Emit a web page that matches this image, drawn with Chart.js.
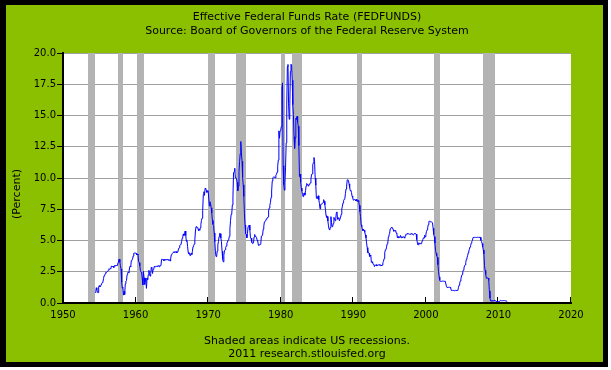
<!DOCTYPE html>
<html lang="en">
<head>
  <meta charset="UTF-8">
  <title>Effective Federal Funds Rate (FEDFUNDS)</title>
  <script src="https://cdn.jsdelivr.net/npm/chart.js"></script>
  <style>
    body {
      margin: 0;
      padding: 0;
      background: #ffffff;
    }
    #wrap {
      position: relative;
      width: 611px;
      height: 370px;
    }
  </style>
</head>
<body>

  <div id="wrap">
    <canvas id="fedChart" width="611" height="370"></canvas>
  </div>

  <script>
    // Monthly effective federal funds rate, percent (first value = July 1954)
    const firstMonth = 1954 + 6 / 12;
    const rates1950s = [
      0.80, 1.22, 1.07, 0.85, 0.83, 1.28,
      1.39, 1.29, 1.35, 1.43, 1.43, 1.64, 1.68, 1.96, 2.18, 2.24, 2.35, 2.48,
      2.45, 2.50, 2.50, 2.62, 2.75, 2.71, 2.75, 2.73, 2.95, 2.96, 2.88, 2.94,
      2.84, 3.00, 2.96, 3.00, 3.00, 3.00, 2.99, 3.24, 3.47, 3.50, 3.28, 2.98,
      2.72, 1.67, 1.20, 1.26, 0.63, 0.93, 0.68, 1.53, 1.76, 1.80, 2.27, 2.42,
      2.48, 2.43, 2.80, 2.96, 2.90, 3.39, 3.47, 3.50, 3.76, 3.98, 4.00, 3.99
    ];
    const rates1960s = [
      3.99, 3.97, 3.84, 3.92, 3.85, 3.32, 3.23, 2.98, 2.60, 2.47, 2.44, 1.98,
      1.45, 2.54, 2.02, 1.49, 1.98, 1.73, 1.17, 2.00, 1.88, 2.26, 2.61, 2.33,
      2.15, 2.37, 2.85, 2.78, 2.36, 2.68, 2.71, 2.93, 2.90, 2.90, 2.94, 2.93,
      2.92, 3.00, 2.98, 2.90, 3.00, 2.99, 3.02, 3.49, 3.48, 3.50, 3.48, 3.38,
      3.48, 3.48, 3.43, 3.47, 3.50, 3.50, 3.42, 3.50, 3.45, 3.36, 3.52, 3.85,
      3.90, 3.98, 4.04, 4.09, 4.10, 4.04, 4.09, 4.12, 4.01, 4.08, 4.10, 4.32,
      4.42, 4.60, 4.65, 4.67, 4.90, 5.17, 5.30, 5.53, 5.40, 5.53, 5.76, 5.40,
      4.94, 5.00, 4.53, 4.05, 3.94, 3.98, 3.79, 3.90, 3.99, 3.88, 4.13, 4.51,
      4.61, 4.71, 5.05, 5.76, 6.11, 6.07, 6.02, 6.03, 5.78, 5.91, 5.82, 6.02,
      6.30, 6.61, 6.79, 7.41, 8.67, 8.90, 8.61, 9.19, 9.15, 9.00, 8.85, 8.97
    ];
    const rates1970s = [
      8.98, 8.98, 7.76, 8.10, 7.95, 7.61, 7.21, 6.61, 6.29, 6.20, 5.60, 4.90,
      4.14, 3.72, 3.71, 4.16, 4.63, 4.91, 5.31, 5.57, 5.55, 5.20, 4.91, 4.14,
      3.50, 3.29, 3.83, 4.17, 4.27, 4.46, 4.55, 4.80, 4.87, 5.04, 5.06, 5.33,
      5.94, 6.58, 7.09, 7.12, 7.84, 8.49, 10.40, 10.50, 10.78, 10.01, 10.03, 9.95,
      9.65, 8.97, 9.35, 10.51, 11.31, 11.93, 12.92, 12.01, 11.34, 10.06, 9.45, 8.53,
      7.13, 6.24, 5.54, 5.49, 5.22, 5.55, 6.10, 6.14, 6.24, 5.82, 5.22, 5.20,
      4.87, 4.77, 4.84, 4.82, 5.29, 5.48, 5.31, 5.29, 5.25, 5.02, 4.95, 4.65,
      4.61, 4.68, 4.69, 4.73, 5.35, 5.39, 5.42, 5.90, 6.14, 6.47, 6.51, 6.56,
      6.70, 6.78, 6.79, 6.89, 7.36, 7.60, 7.81, 8.04, 8.45, 8.96, 9.76, 10.03,
      10.07, 10.06, 10.09, 10.01, 10.24, 10.29, 10.47, 10.94, 11.43, 13.77, 13.18, 13.78
    ];
    const rates1980s = [
      13.82, 14.13, 17.19, 17.61, 10.98, 9.47, 9.03, 9.61, 10.87, 12.81, 15.85, 18.90,
      19.08, 15.93, 14.70, 15.72, 18.52, 19.10, 19.04, 17.82, 15.87, 15.08, 13.31, 12.37,
      13.22, 14.78, 14.68, 14.94, 14.45, 14.15, 12.59, 10.12, 10.31, 9.71, 9.20, 8.95,
      8.68, 8.51, 8.77, 8.80, 8.63, 8.98, 9.37, 9.56, 9.45, 9.48, 9.34, 9.47,
      9.56, 9.59, 9.91, 10.29, 10.32, 11.06, 11.23, 11.64, 11.30, 9.99, 9.43, 8.38,
      8.35, 8.50, 8.58, 8.27, 7.97, 7.53, 7.88, 7.90, 7.92, 7.99, 8.05, 8.27,
      8.14, 7.86, 7.48, 6.99, 6.85, 6.92, 6.56, 6.17, 5.89, 5.85, 6.04, 6.91,
      6.43, 6.10, 6.13, 6.37, 6.85, 6.73, 6.58, 6.73, 7.22, 7.29, 6.69, 6.77,
      6.83, 6.58, 6.58, 6.87, 7.09, 7.51, 7.75, 8.01, 8.19, 8.30, 8.35, 8.76,
      9.12, 9.36, 9.85, 9.84, 9.81, 9.53, 9.24, 8.99, 9.02, 8.84, 8.55, 8.45
    ];
    const rates1990s = [
      8.23, 8.24, 8.28, 8.26, 8.18, 8.29, 8.15, 8.13, 8.20, 8.11, 7.81, 7.31,
      6.91, 6.25, 6.12, 5.91, 5.78, 5.90, 5.82, 5.66, 5.45, 5.21, 4.81, 4.43,
      4.03, 4.06, 3.98, 3.73, 3.82, 3.76, 3.25, 3.30, 3.22, 3.10, 3.09, 2.92,
      3.02, 3.03, 3.07, 2.96, 3.00, 3.04, 3.06, 3.03, 3.09, 2.99, 3.02, 2.96,
      3.05, 3.25, 3.34, 3.56, 4.01, 4.25, 4.26, 4.47, 4.73, 4.76, 5.29, 5.45,
      5.53, 5.92, 5.98, 6.05, 6.01, 6.00, 5.85, 5.74, 5.80, 5.76, 5.80, 5.60,
      5.56, 5.22, 5.31, 5.22, 5.24, 5.27, 5.40, 5.22, 5.30, 5.24, 5.31, 5.29,
      5.25, 5.19, 5.39, 5.51, 5.50, 5.56, 5.52, 5.54, 5.54, 5.50, 5.52, 5.50,
      5.56, 5.51, 5.49, 5.45, 5.49, 5.56, 5.54, 5.55, 5.51, 5.07, 4.83, 4.68,
      4.63, 4.76, 4.81, 4.74, 4.74, 4.76, 4.99, 5.07, 5.22, 5.20, 5.42, 5.30
    ];
    const rates2000s = [
      5.45, 5.73, 5.85, 6.02, 6.27, 6.53, 6.54, 6.50, 6.52, 6.51, 6.51, 6.40,
      5.98, 5.49, 5.31, 4.80, 4.21, 3.97, 3.77, 3.65, 3.07, 2.49, 2.09, 1.82,
      1.73, 1.74, 1.73, 1.75, 1.75, 1.75, 1.73, 1.74, 1.75, 1.75, 1.34, 1.24,
      1.24, 1.26, 1.25, 1.26, 1.26, 1.22, 1.01, 1.03, 1.01, 1.01, 1.00, 0.98,
      1.00, 1.01, 1.00, 1.00, 1.00, 1.03, 1.26, 1.43, 1.61, 1.76, 1.93, 2.16,
      2.28, 2.50, 2.63, 2.79, 3.00, 3.04, 3.26, 3.50, 3.62, 3.78, 4.00, 4.16,
      4.29, 4.49, 4.59, 4.79, 4.94, 4.99, 5.24, 5.25, 5.25, 5.25, 5.25, 5.24,
      5.25, 5.26, 5.26, 5.25, 5.25, 5.25, 5.26, 5.02, 4.94, 4.76, 4.49, 4.24,
      3.94, 2.98, 2.61, 2.28, 1.98, 2.00, 2.01, 2.00, 1.81, 0.97, 0.39, 0.16,
      0.15, 0.22, 0.18, 0.15, 0.18, 0.21, 0.16, 0.16, 0.15, 0.12, 0.12, 0.12
    ];
    const rates2010s = [
      0.11, 0.13, 0.16, 0.20, 0.20, 0.18, 0.18, 0.19, 0.19, 0.19, 0.19, 0.18,
      0.17, 0.16, 0.14
    ];

    // NBER recessions (decimal years)
    const recessionStarts = [1953.50, 1957.58, 1960.25, 1969.92, 1973.83, 1980.00, 1981.50, 1990.50, 2001.17, 2007.92];
    const recessionEnds   = [1954.42, 1958.33, 1961.17, 1970.92, 1975.25, 1980.58, 1982.92, 1991.25, 2001.92, 2009.50];

    const yearTicks = [1950, 1960, 1970, 1980, 1990, 2000, 2010, 2020];
    const titleLines = ['Effective Federal Funds Rate (FEDFUNDS)', 'Source: Board of Governors of the Federal Reserve System'];
    const footerLines = ['Shaded areas indicate US recessions.', '2011 research.stlouisfed.org'];
    const yTitle = '(Percent)';

    const allRates = [].concat(rates1950s, rates1960s, rates1970s, rates1980s, rates1990s, rates2000s, rates2010s);
    const points = allRates.map((v, i) => ({ x: firstMonth + i / 12, y: v }));

    const FONT = "'DejaVu Sans', Verdana, sans-serif";

    // frame, recession shading, inner x ticks and the texts
    const fredPlugin = {
      id: 'fred',
      beforeDraw(chart) {
        const ctx = chart.ctx;
        const a = chart.chartArea;
        ctx.save();
        ctx.fillStyle = '#000000';
        ctx.fillRect(0, 0, 608, 367);
        ctx.fillStyle = '#8bc000';
        ctx.fillRect(6, 5, 597, 357);
        ctx.fillStyle = '#ffffff';
        ctx.fillRect(a.left, a.top, a.right - a.left, a.bottom - a.top);
        ctx.restore();
      },
      beforeDatasetsDraw(chart) {
        const ctx = chart.ctx;
        const a = chart.chartArea;
        const xs = chart.scales.x;
        ctx.save();
        ctx.fillStyle = '#b3b3b3';
        recessionStarts.forEach((s, i) => {
          const x0 = Math.round(xs.getPixelForValue(s));
          const x1 = Math.round(xs.getPixelForValue(recessionEnds[i]));
          ctx.fillRect(x0, a.top, x1 - x0, a.bottom - a.top - 1);
        });
        ctx.strokeStyle = '#000000';
        ctx.lineWidth = 1;
        yearTicks.forEach(yr => {
          const x = Math.round(xs.getPixelForValue(yr)) - 0.5;
          ctx.beginPath();
          ctx.moveTo(x, a.bottom);
          ctx.lineTo(x, a.bottom - 6);
          ctx.stroke();
        });
        ctx.restore();
      },
      afterDraw(chart) {
        const ctx = chart.ctx;
        ctx.save();
        ctx.fillStyle = '#000000';
        ctx.font = '11px ' + FONT;
        ctx.textAlign = 'center';
        ctx.textBaseline = 'alphabetic';
        ctx.fillText(titleLines[0], 307, 20);
        ctx.fillText(titleLines[1], 307, 34);
        ctx.fillText(footerLines[0], 307, 344);
        ctx.fillText(footerLines[1], 307, 357);
        ctx.translate(20, 194);
        ctx.rotate(-Math.PI / 2);
        ctx.fillText(yTitle, 0, 0);
        ctx.restore();
      }
    };

    const ctx = document.getElementById('fedChart').getContext('2d');
    const chart = new Chart(ctx, {
      type: 'line',
      data: {
        datasets: [{
          label: 'FEDFUNDS',
          data: points,
          borderColor: '#0000ff',
          borderWidth: 1,
          pointRadius: 0,
          tension: 0,
          fill: false
        }]
      },
      options: {
        responsive: false,
        animation: false,
        parsing: false,
        layout: {
          padding: { left: 0, top: 53, right: 40, bottom: 0 }
        },
        plugins: {
          legend: { display: false },
          tooltip: { enabled: false }
        },
        scales: {
          x: {
            type: 'linear',
            min: 1950,
            max: 2020,
            afterFit: (scale) => { scale.height = 67; },
            afterBuildTicks: (scale) => { scale.ticks = yearTicks.map(v => ({ value: v })); },
            grid: { display: false, drawTicks: false },
            border: { color: '#000000', width: 2 },
            ticks: {
              color: '#000000',
              font: { family: FONT, size: 10 },
              padding: 6,
              maxRotation: 0,
              callback: (v) => String(v)
            }
          },
          y: {
            min: 0,
            max: 20,
            afterFit: (scale) => { scale.width = 63; },
            grid: { color: '#a0a0a0', tickColor: '#000000', tickLength: 6, lineWidth: 1 },
            border: { color: '#000000', width: 2 },
            ticks: {
              stepSize: 2.5,
              color: '#000000',
              font: { family: FONT, size: 10 },
              padding: 1,
              callback: (v) => v.toFixed(1)
            }
          }
        }
      },
      plugins: [fredPlugin]
    });
  </script>

</body>
</html>
